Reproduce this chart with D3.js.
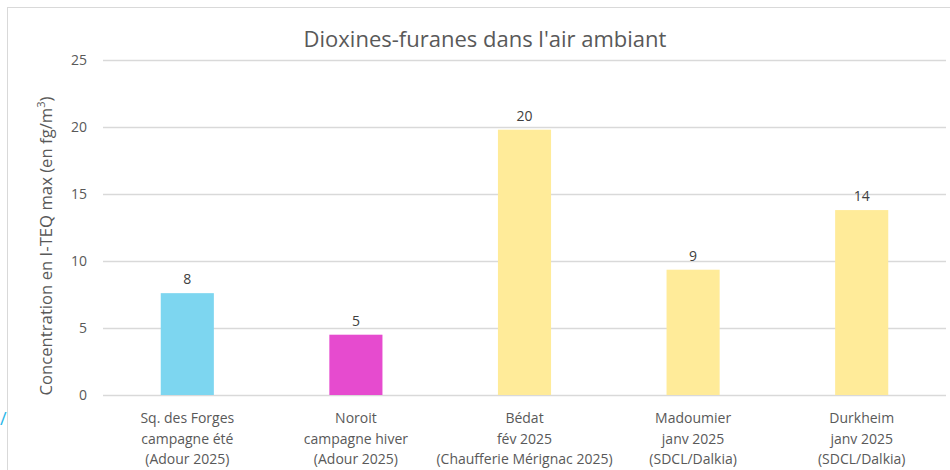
<!DOCTYPE html>
<html>
<head>
<meta charset="utf-8">
<script src="https://cdn.jsdelivr.net/npm/d3@7"></script>
<style>
  body { margin: 0; background: #fff; }
  text { font-family: "Open Sans", "Noto Sans", sans-serif; fill: #595959; }
</style>
</head>
<body>
<div id="chart"></div>
<script>
var categories = [
  ['Sq. des Forges', 'campagne été', '(Adour 2025)'],
  ['Noroit', 'campagne hiver', '(Adour 2025)'],
  ['Bédat', 'fév 2025', '(Chaufferie Mérignac 2025)'],
  ['Madoumier', 'janv 2025', '(SDCL/Dalkia)'],
  ['Durkheim', 'janv 2025', '(SDCL/Dalkia)']
];
var values = [7.6, 4.5, 19.8, 9.35, 13.8];
var bar_colors = ['#7dd6f0', '#e64bcf', '#ffeb99', '#ffeb99', '#ffeb99'];
var y_ticks = [0, 5, 10, 15, 20, 25];

var width = 950, height = 470;
var margin = {left: 103, right: 4, top: 60, bottom: 75};

var svg = d3.select('#chart').append('svg')
  .attr('width', width)
  .attr('height', height);

// outer frame of the chart
svg.append('rect')
  .attr('x', 7.5).attr('y', 7.5)
  .attr('width', width).attr('height', height)
  .attr('fill', 'none')
  .attr('stroke', '#d9d9d9');

// little stray mark on the left edge
svg.append('text')
  .attr('x', 0).attr('y', 425)
  .style('fill', '#29b6e8')
  .style('font-size', '18px')
  .text('/');

var x = d3.scaleBand()
  .domain(d3.range(categories.length))
  .range([margin.left, width - margin.right])
  .paddingInner(0.685)
  .paddingOuter(0.3425);

var y = d3.scaleLinear()
  .domain([0, 25])
  .range([height - margin.bottom, margin.top]);

// grid
svg.append('g')
  .selectAll('line')
  .data(y_ticks)
  .join('line')
  .attr('x1', margin.left)
  .attr('x2', width - margin.right)
  .attr('y1', function(d) { return Math.round(y(d)) + 0.5; })
  .attr('y2', function(d) { return Math.round(y(d)) + 0.5; })
  .attr('stroke', '#d9d9d9')
  .attr('stroke-width', 1.3);

// y axis labels
var yAxis = svg.append('g')
  .attr('transform', 'translate(' + (margin.left - 14) + ',0)')
  .call(d3.axisLeft(y).tickValues(y_ticks).tickSize(0).tickPadding(2));
yAxis.select('.domain').remove();
yAxis.selectAll('text')
  .style('font-size', '14px')
  .style('fill', '#595959');

// bars
svg.append('g')
  .selectAll('rect')
  .data(values)
  .join('rect')
  .attr('x', function(d, i) { return x(i); })
  .attr('y', function(d) { return y(d); })
  .attr('width', x.bandwidth())
  .attr('height', function(d) { return y(0) - y(d); })
  .attr('fill', function(d, i) { return bar_colors[i]; });

// data labels
svg.append('g')
  .selectAll('text')
  .data(values)
  .join('text')
  .attr('x', function(d, i) { return x(i) + x.bandwidth() / 2; })
  .attr('y', function(d) { return y(d) - 9; })
  .attr('text-anchor', 'middle')
  .style('font-size', '14px')
  .style('fill', '#404040')
  .text(function(d) { return Math.round(d); });

// category labels
var cats = svg.append('g')
  .selectAll('text')
  .data(categories)
  .join('text')
  .attr('text-anchor', 'middle')
  .style('font-size', '14px')
  .attr('transform', function(d, i) {
    return 'translate(' + (x(i) + x.bandwidth() / 2) + ',' + (y(0) + 28) + ')';
  });
cats.selectAll('tspan')
  .data(function(d) { return d; })
  .join('tspan')
  .attr('x', 0)
  .attr('y', function(d, j) { return j * 20.5; })
  .text(function(d) { return d; });

// title
svg.append('text')
  .attr('x', 485)
  .attr('y', 47)
  .attr('text-anchor', 'middle')
  .style('font-size', '22px')
  .text("Dioxines-furanes dans l'air ambiant");

// y axis title
var ytitle = svg.append('text')
  .attr('transform', 'translate(52,246) rotate(-90)')
  .attr('text-anchor', 'middle')
  .style('font-size', '16.7px');
ytitle.append('tspan').text('Concentration en I-TEQ max (en fg/m');
ytitle.append('tspan').attr('dy', -7).style('font-size', '11px').text('3');
ytitle.append('tspan').attr('dy', 7).text(')');
</script>
</body>
</html>
